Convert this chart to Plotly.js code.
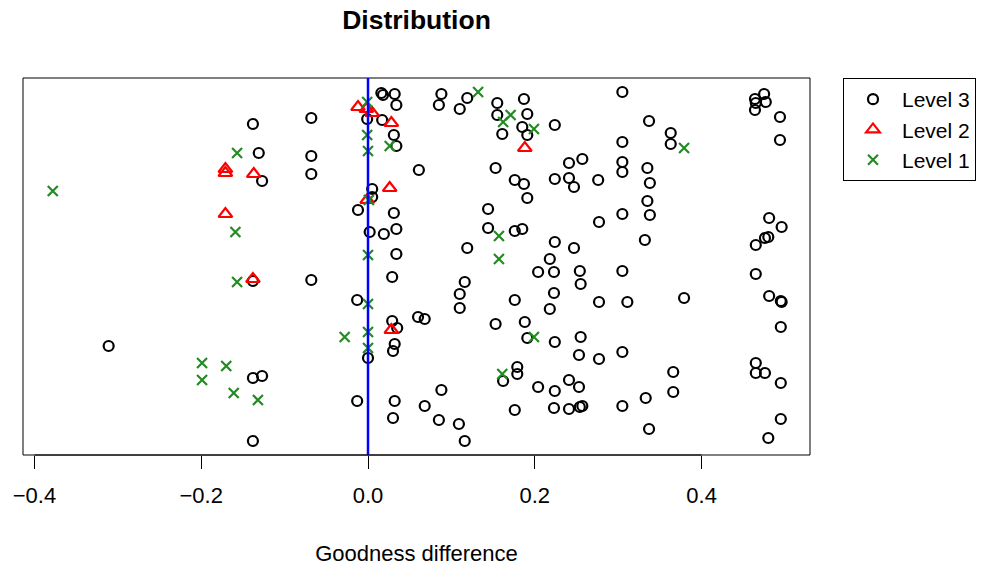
<!DOCTYPE html>
<html>
<head>
<meta charset="utf-8">
<script src="https://cdn.plot.ly/plotly-3.0.1.min.js"></script>
<style>html,body{margin:0;padding:0;background:#fff;}#chart{width:984px;height:567px;}</style>
</head>
<body>
<div id="chart"></div>
<script>
// Goodness difference (x) with vertical jitter (y) per level
const level3X = [-0.138,-0.068,0.016,0.018,0.032,0.034,-0.001,0.017,0.031,0.034,-0.131,-0.068,-0.127,-0.068,0.061,0.005,0.005,-0.012,0.031,0.002,0.019,0.034,0.034,
  0.088,0.085,0.119,0.110,0.155,0.155,0.187,0.191,0.185,0.161,0.191,0.224,0.153,0.176,0.187,0.191,0.224,0.241,0.257,0.241,0.247,0.276,0.144,0.144,0.176,0.185,0.224,0.247,0.218,0.277,0.119,
  0.305,0.337,0.363,0.363,0.305,0.305,0.305,0.335,0.338,0.335,0.338,0.305,0.332,
  0.464,0.465,0.475,0.477,0.464,0.494,0.494,0.481,0.496,0.480,0.476,0.465,
  -0.138,-0.068,-0.013,0.029,0.029,0.035,0.000,0.032,0.030,-0.138,-0.127,-0.013,0.032,0.030,-0.138,-0.311,
  0.204,0.223,0.254,0.116,0.110,0.110,0.060,0.068,0.176,0.223,0.218,0.255,0.277,0.153,0.188,0.191,0.224,0.255,0.253,0.277,0.179,0.179,0.162,0.204,0.224,0.241,0.253,0.088,0.068,0.085,0.109,0.116,0.176,0.223,0.241,0.254,0.257,
  0.305,0.465,0.311,0.379,0.481,0.495,0.496,0.495,0.305,0.366,0.366,0.465,0.465,0.476,0.495,0.333,0.305,0.337,0.495,0.480];
const level3Y = [331,337,362,360,361,350,336,335,320,309,302,299,274,281,285,266,258,245,242,223,221,226,201,
  361,350,357,346,352,340,356,341,328,321,320,330,287,275,271,257,276,292,296,277,268,275,246,227,224,226,213,207,196,233,207,
  363,334,322,311,313,293,283,287,272,254,240,241,215,
  356,352,361,353,345,338,315,237,228,218,217,210,
  174,175,155,178,134,127,97,111,104,77,79,54,54,37,14,109,
  183,183,184,173,161,147,138,136,155,162,146,171,153,131,133,117,113,118,100,96,88,81,74,68,64,75,68,65,49,35,31,14,45,47,46,48,49,
  184,181,153,157,159,154,153,128,103,83,63,92,82,82,72,57,49,26,36,17];

const level2X = [-0.012,-0.002,0.005,0.028,0.188,-0.171,-0.171,-0.137,0.026,-0.001,-0.171,-0.138,0.028];
const level2Y = [348,346,342,332,307,286,282,281,267,255,241,176,125];

const level1X = [-0.378,-0.001,-0.001,0.000,0.026,-0.157,-0.159,0.000,0.132,0.162,0.171,0.199,0.157,0.157,0.379,-0.199,-0.199,-0.157,0.000,-0.028,0.000,0.000,-0.170,-0.161,-0.132,0.199,0.161,0.001];
const level1Y = [264,353,320,304,309,302,223,200,363,333,340,326,219,196,307,92,75,173,151,118,123,107,89,62,55,118,81,255];

const levelNames = ["Level 3","Level 2","Level 1"];
const tickVals = [-0.4,-0.2,0.0,0.2,0.4];
const tickText = ["\u22120.4","\u22120.2","0.0","0.2","0.4"];

const FONT = "Liberation Sans, Arial, Helvetica, sans-serif";

const traces = [
  {x: level3X, y: level3Y, name: levelNames[0], type: "scatter", mode: "markers",
   marker: {symbol: "circle-open", size: 10, color: "black", line: {width: 2.2, color: "black"}}},
  {x: level2X, y: level2Y, name: levelNames[1], type: "scatter", mode: "markers",
   marker: {symbol: "triangle-up-open", size: 12, color: "red", line: {width: 2.2, color: "red"}}},
  {x: level1X, y: level1Y, name: levelNames[2], type: "scatter", mode: "markers",
   marker: {symbol: "x-thin-open", size: 10, color: "#228B22", line: {width: 2.2, color: "#228B22"}}}
];

const layout = {
  width: 984, height: 567,
  paper_bgcolor: "white", plot_bgcolor: "white",
  margin: {l: 23, r: 174, t: 78, b: 112},
  font: {family: FONT, color: "black", size: 22},
  title: {text: "<b>Distribution</b>", x: 0.5, xref: "paper", y: 1 - 20/567, yref: "container",
          yanchor: "middle", font: {family: FONT, size: 26.5, color: "black"}},
  xaxis: {
    range: [-0.4137, 0.530], tickvals: tickVals, ticktext: tickText,
    ticks: "outside", ticklen: 13, tickwidth: 1, tickcolor: "black",
    showgrid: false, zeroline: false, showline: false,
    tickfont: {family: FONT, size: 22, color: "black"},
    ticklabelstandoff: 8,
    title: {text: "Goodness difference", font: {family: FONT, size: 22, color: "black"}, standoff: 38}
  },
  yaxis: {range: [0, 377], showticklabels: false, ticks: "", showgrid: false, zeroline: false, showline: false},
  showlegend: true,
  legend: {xref: "container", yref: "container", x: 843/984, xanchor: "left", y: 1 - 78/567, yanchor: "top",
           bordercolor: "black", borderwidth: 1, itemwidth: 48,
           font: {family: FONT, size: 21, color: "black"}, traceorder: "normal", bgcolor: "white"},
  shapes: [
    {type: "rect", xref: "paper", yref: "paper", x0: 0, x1: 1, y0: 0, y1: 1, line: {color: "black", width: 1}},
    {type: "line", xref: "x", yref: "paper", x0: 0, x1: 0, y0: 0, y1: 1, line: {color: "blue", width: 2.5}},
    {type: "line", xref: "x", yref: "paper", x0: -0.4, x1: 0.4, y0: 0, y1: 0, line: {color: "black", width: 1}}
  ]
};

Plotly.newPlot("chart", traces, layout, {displayModeBar: false, staticPlot: true});
</script>
</body>
</html>
